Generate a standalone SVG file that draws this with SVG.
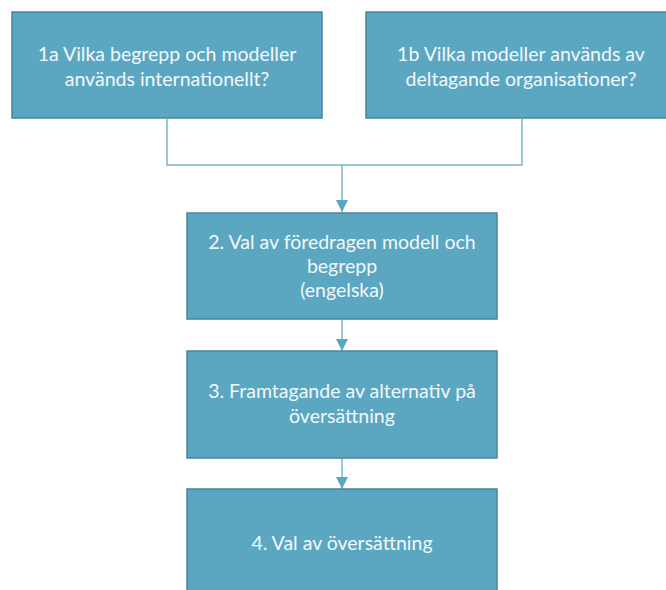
<svg xmlns="http://www.w3.org/2000/svg" width="666" height="590" viewBox="0 0 666 590">
<style>
.box{fill:#5ba7c2;stroke:#4a8499;stroke-width:1.5}
.t{font-family:Lato,"Open Sans",sans-serif;font-size:19.5px;fill:#f2f8fb;text-anchor:middle}
.c{fill:none;stroke:#76b6cc;stroke-width:1.5}
</style>
<defs>
<marker id="ah" markerUnits="userSpaceOnUse" markerWidth="12" markerHeight="12" viewBox="0 0 12 12" refX="12" refY="6" orient="auto">
<path d="M0,0 L12,6 L0,12 Z" fill="#5ba7c2"/>
</marker>
</defs>
<g id="connectors">
<path class="c" d="M167,119 V165 H522 V119"/>
<path class="c" d="M342,165 V212" marker-end="url(#ah)"/>
<path class="c" d="M342,320 V351" marker-end="url(#ah)"/>
<path class="c" d="M342,458 V489" marker-end="url(#ah)"/>
</g>
<g id="n1a">
<rect class="box" x="12" y="12" width="310" height="106"/>
<text class="t" x="167" y="61">1a Vilka begrepp och modeller</text>
<text class="t" x="167" y="86">används internationellt?</text>
</g>
<g id="n1b">
<rect class="box" x="366" y="12" width="310" height="106"/>
<text class="t" x="521" y="61">1b Vilka modeller används av</text>
<text class="t" x="521" y="86">deltagande organisationer?</text>
</g>
<g id="n2">
<rect class="box" x="187" y="213" width="310" height="106"/>
<text class="t" x="342" y="249">2. Val av föredragen modell och</text>
<text class="t" x="342" y="273">begrepp</text>
<text class="t" x="342" y="297">(engelska)</text>
</g>
<g id="n3">
<rect class="box" x="187" y="351" width="310" height="107"/>
<text class="t" x="342" y="398">3. Framtagande av alternativ på</text>
<text class="t" x="342" y="423">översättning</text>
</g>
<g id="n4">
<rect class="box" x="187" y="489" width="310" height="110"/>
<text class="t" x="342" y="550">4. Val av översättning</text>
</g>
</svg>
